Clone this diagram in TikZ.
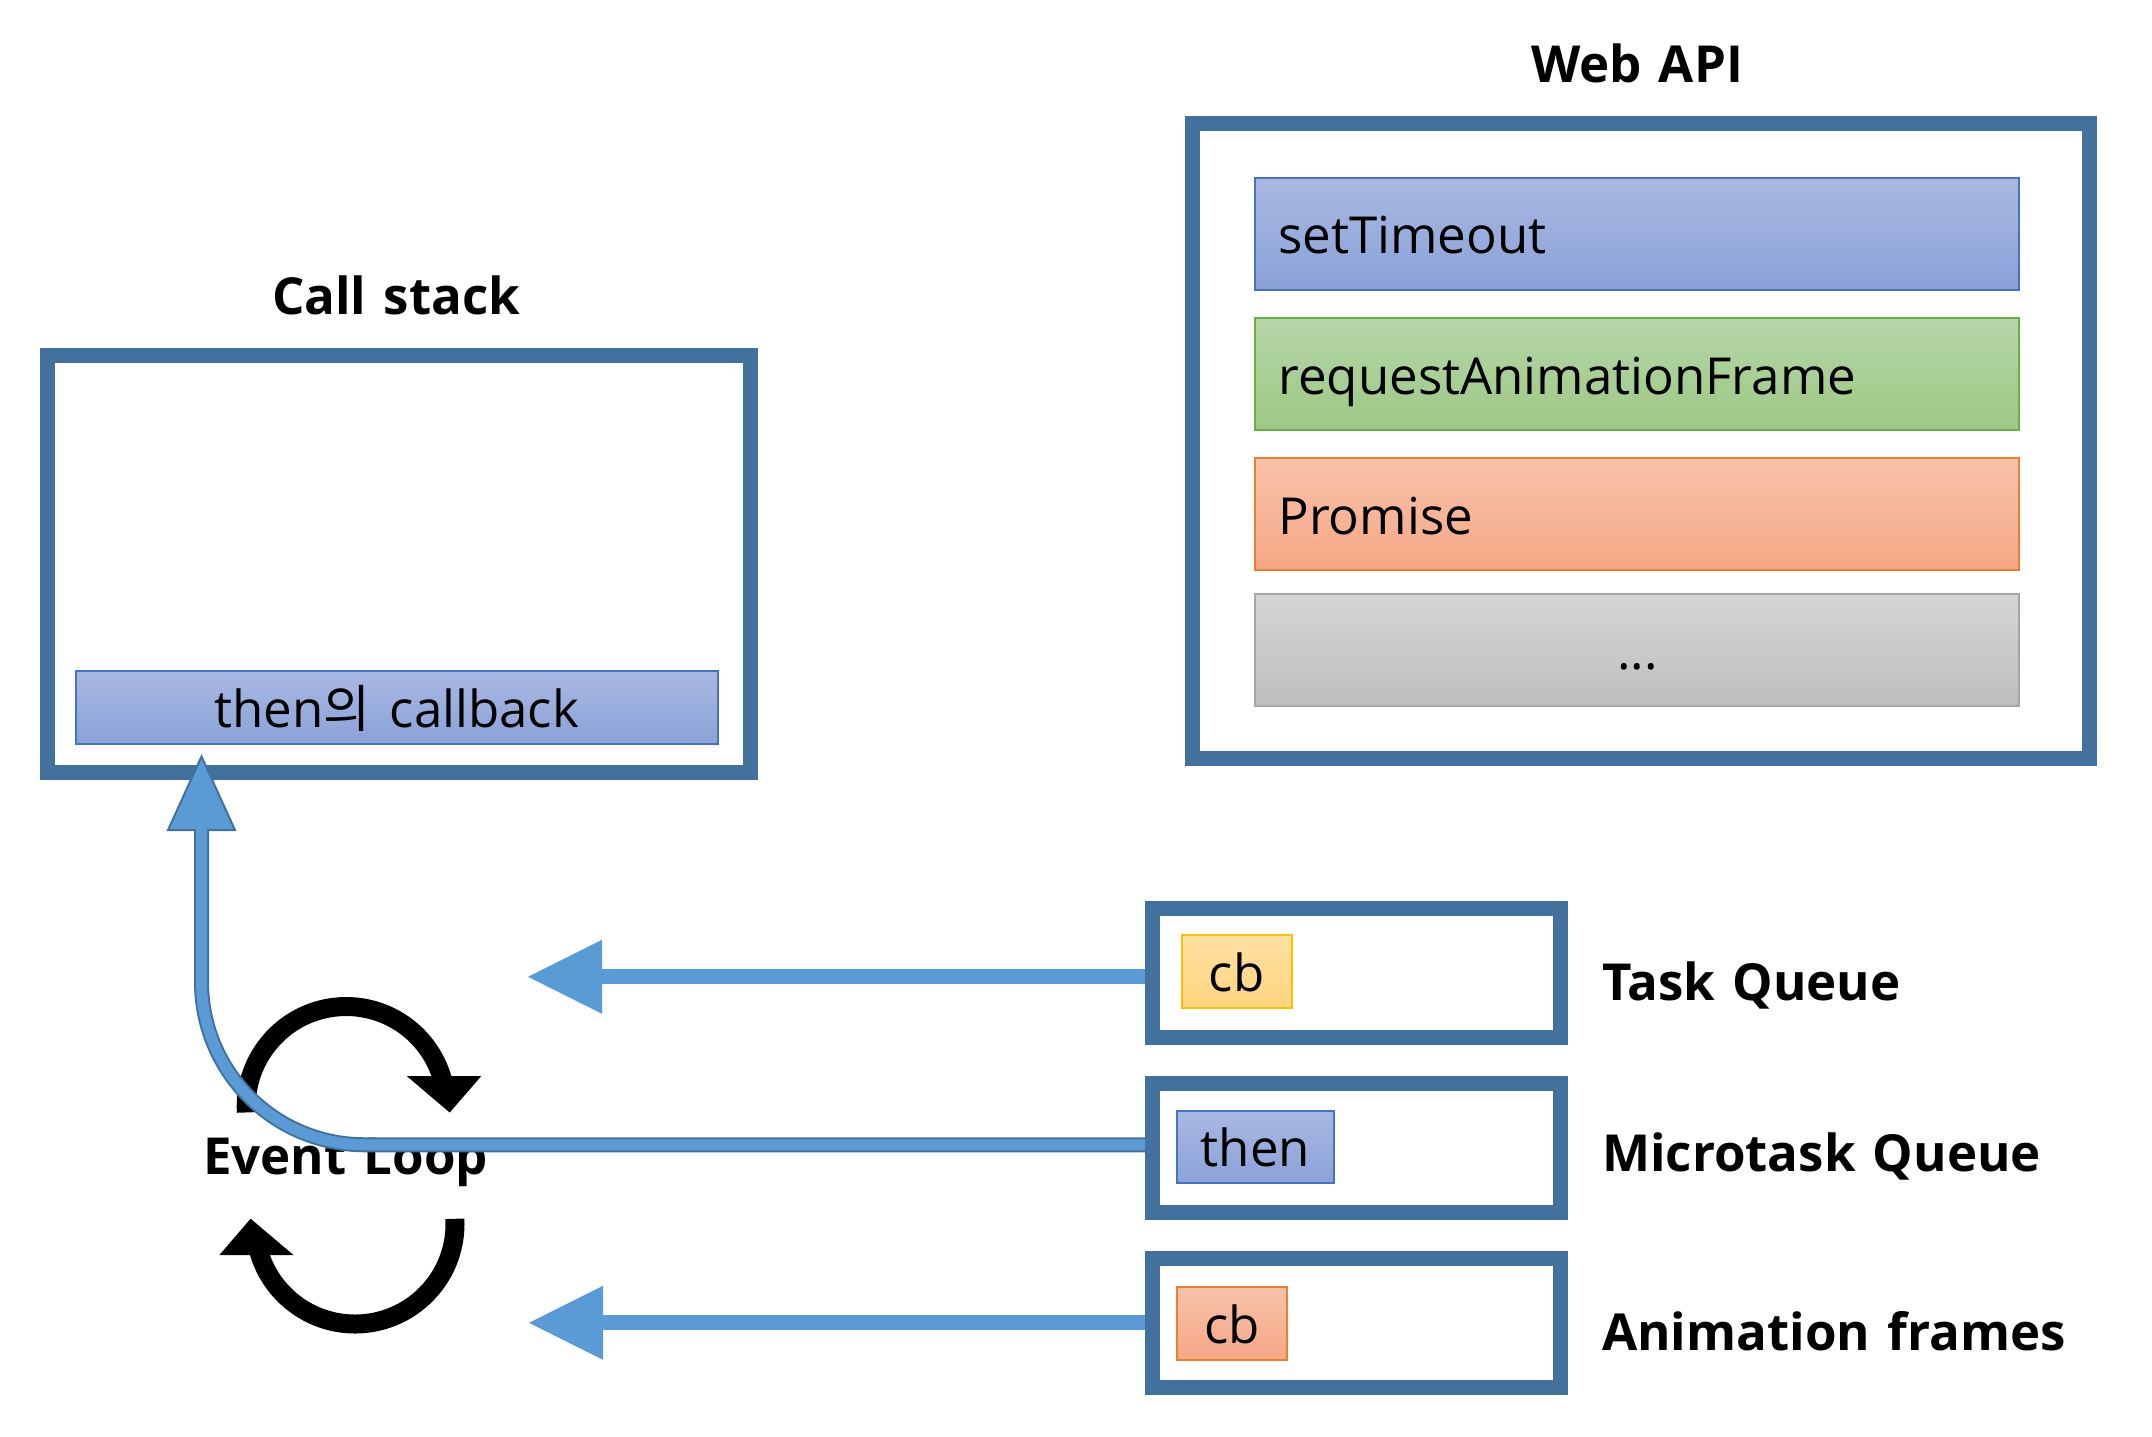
\documentclass[tikz,border=0pt]{standalone}
\usepackage{fontspec}
\setmainfont{Open Sans}[BoldFont={Open Sans Bold}]
\newfontfamily\krfont{Noto Sans CJK KR}
\usetikzlibrary{arrows.meta,calc}
\definecolor{boxblue}{HTML}{41719C}
\definecolor{arrowblue}{HTML}{5B9BD5}
\definecolor{itblueT}{HTML}{A9B8E2}
\definecolor{itblueB}{HTML}{8AA2D8}
\definecolor{itblueD}{HTML}{4472C4}
\definecolor{itgreenT}{HTML}{B6D6A8}
\definecolor{itgreenB}{HTML}{9CC884}
\definecolor{itgreenD}{HTML}{70AD47}
\definecolor{itorangeT}{HTML}{F8C3AB}
\definecolor{itorangeB}{HTML}{F5A785}
\definecolor{itorangeD}{HTML}{ED7D31}
\definecolor{itgrayT}{HTML}{D5D5D5}
\definecolor{itgrayB}{HTML}{BEBEBE}
\definecolor{itgrayD}{HTML}{A5A5A5}
\definecolor{ityellowT}{HTML}{FFE1A2}
\definecolor{ityellowB}{HTML}{FFD47E}
\definecolor{ityellowD}{HTML}{FFC000}
\newcommand\regfont{\fontsize{51}{60}\selectfont}
\newcommand\boldfont{\bfseries\fontsize{51}{60}\selectfont}
\begin{document}
\begin{tikzpicture}[x=1pt,y=-1pt,
  panel/.style={draw=boxblue, line width=15pt, fill=white, inner sep=0pt},
  item/.style={line width=2pt, inner sep=0pt, text height=40pt, text depth=0pt, font=\regfont},
  apiitem/.style={item, minimum width=764pt, minimum height=112pt, text width=718pt, inner xsep=23pt, align=left},
  blueitem/.style={draw=itblueD, top color=itblueT, bottom color=itblueB},
  greenitem/.style={draw=itgreenD, top color=itgreenT, bottom color=itgreenB},
  orangeitem/.style={draw=itorangeD, top color=itorangeT, bottom color=itorangeB},
  grayitem/.style={draw=itgrayD, top color=itgrayT, bottom color=itgrayB},
  yellowitem/.style={draw=ityellowD, top color=ityellowT, bottom color=ityellowB},
  title/.style={font=\boldfont, inner sep=0pt},
  qarrow/.style={line width=15pt, draw=arrowblue, -{Triangle[length=74pt,width=74pt,line width=0pt]}},
  loopline/.style={line width=19pt, draw=black},
]
\useasboundingbox (0,0) rectangle (2152,1436);

% Call stack
\node[panel, minimum width=702.5pt, minimum height=416.4pt] (cs) at (398.75,563.8) {};
\node[title, anchor=base] (cstitle) at (396,314) {Call\hspace{4pt} stack};
\node[item, blueitem, minimum width=642.5pt, minimum height=73pt] (csitem) at (396.75,707.5) {then{\krfont 의}\hspace{6pt} callback};

% Web API
\node[panel, minimum width=897.5pt, minimum height=634.5pt] (api) at (1640.75,440.75) {};
\node[title, anchor=base] (apititle) at (1637,82.7) {Web\hspace{4pt} API};
\node[apiitem, blueitem] (st) at (1637.4,233.6) {setTimeout};
\node[apiitem, greenitem] (raf) at (1637.4,374.1) {requestAnimationFrame};
\node[apiitem, orangeitem] (pr) at (1637.4,514) {Promise};
\node[apiitem, grayitem, align=center] (etc) at (1637.4,649.6) {...};

% Queues
\node[panel, minimum width=408pt, minimum height=129pt] (tq) at (1356.5,972.75) {};
\node[panel, minimum width=408pt, minimum height=129pt] (mq) at (1356.5,1147.75) {};
\node[panel, minimum width=408pt, minimum height=129pt] (am) at (1356.5,1322.75) {};
\node[item, yellowitem, minimum width=110.5pt, minimum height=73pt] (tqcb) at (1236.75,971.5) {cb};
\node[item, blueitem, minimum width=157pt, minimum height=72.5pt] (mqthen) at (1255.5,1146.75) {then};
\node[item, orangeitem, minimum width=110pt, minimum height=73pt] (amcb) at (1232,1323.7) {cb};
\node[title, anchor=base west] (tql) at (1602,1000.6) {Task\hspace{4pt} Queue};
\node[title, anchor=base west] (mql) at (1602,1171) {Microtask\hspace{4pt} Queue};
\node[title, anchor=base west] (aml) at (1602,1350) {Animation\hspace{4pt} frames};

% Event loop
\coordinate (lc1) at (346.2,1106.5);
\coordinate (lc2) at (355,1224);
\draw[loopline] ([shift={(183.4:100pt)}]lc1) arc[start angle=183.4, end angle=14, radius=100pt];
\fill (406.7,1076) -- (481.3,1076) -- (449.7,1112.5) -- cycle;
\draw[loopline] ([shift={(3:100pt)}]lc2) arc[start angle=3, end angle=-168, radius=100pt];
\fill (250.6,1218.7) -- (219.4,1255) -- (293.5,1255) -- cycle;
\node[title, anchor=base] (el) at (345.5,1174.5) {Event\hspace{4pt} Loop};

% Queue arrows
\coordinate (tqs) at ([yshift=-4pt]tq.west);
\coordinate (tqe) at ([xshift=-617pt]tqs);
\draw[qarrow] (tqs) -- (tqe);
\coordinate (ams) at (am.west);
\coordinate (ame) at ([xshift=-616pt]ams);
\draw[qarrow] (ams) -- (ame);

% Microtask -> call stack arrow
\coordinate (tip) at ([xshift=161.5pt,yshift=23pt]cs.south west);
\coordinate (hb) at ([yshift=-73.5pt]tip);
\coordinate (hl) at ([xshift=-33.5pt]hb);
\coordinate (hr) at ([xshift=33.5pt]hb);
\coordinate (ms) at ([yshift=3pt]mq.west);
\draw[draw=boxblue, line width=2pt, fill=arrowblue, line join=miter] (tip) -- (hl) -- (hr) -- cycle;
\draw[line width=15pt, boxblue, rounded corners=163pt] (ms) -| (hb);
\draw[line width=11pt, arrowblue, rounded corners=163pt] (ms) -| ([yshift=2.5pt]hb);
\end{tikzpicture}
\end{document}
